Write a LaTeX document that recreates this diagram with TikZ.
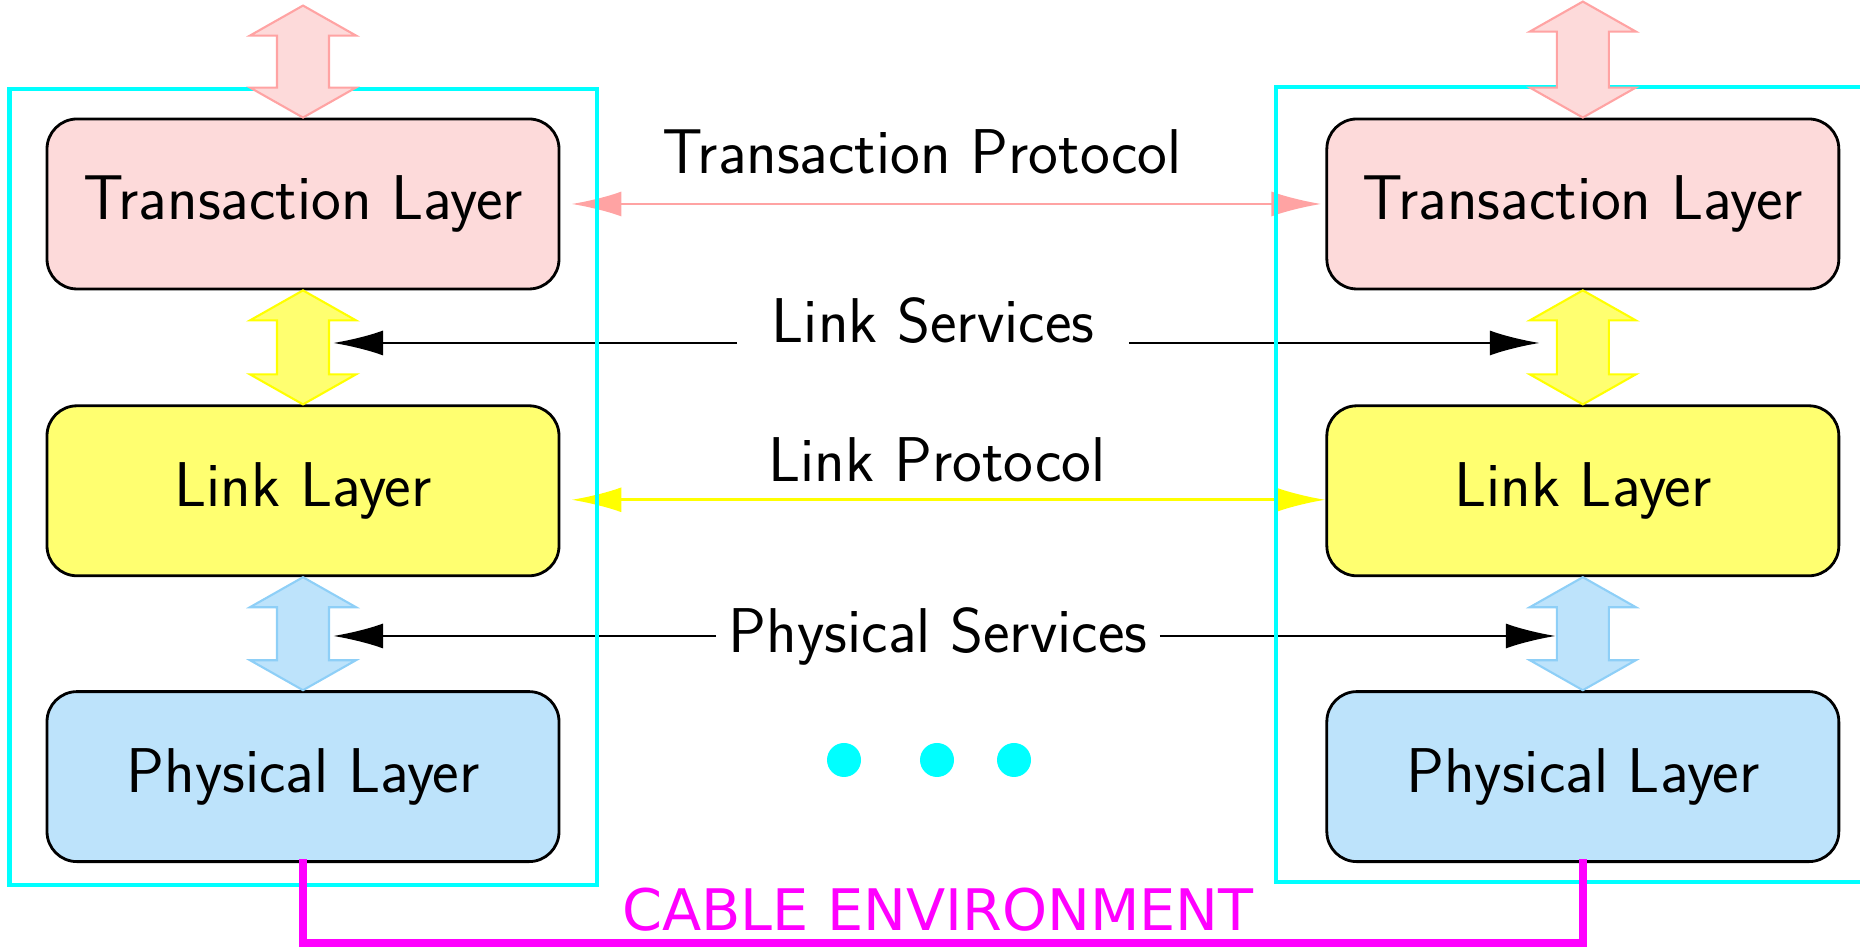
\documentclass[tikz,border=0pt]{standalone}
\usepackage{fontspec}
\newfontfamily\cablefont{DejaVu Sans}
\usepackage{tikz}
\usetikzlibrary{arrows.meta, positioning, calc, backgrounds}

\definecolor{transfill}{HTML}{FDDADA}
\definecolor{transedge}{HTML}{FFA3A3}
\definecolor{linkfill}{HTML}{FFFF70}
\definecolor{linkedge}{HTML}{FFFF00}
\definecolor{physfill}{HTML}{BDE3FB}
\definecolor{physedge}{HTML}{8ECFF7}
\definecolor{devcyan}{HTML}{00FFFF}
\definecolor{cablemag}{HTML}{FF00FF}

\tikzset{
  layer/.style={draw, line width=0.8pt, rounded corners=0.3cm, minimum width=5.12cm,
    minimum height=1.7cm, font=\sffamily\fontsize{18}{21}\selectfont},
  lbl/.style={font=\sffamily\fontsize{18}{21}\selectfont},
  frame/.style={devcyan, line width=1.2pt},
  proto/.style={line width=0.8pt, {Latex[length=0.5cm,width=0.25cm]}-{Latex[length=0.5cm,width=0.25cm]}},
  serv/.style={line width=0.8pt, -{Latex[length=0.5cm,width=0.25cm]}},
  cable/.style={cablemag, line width=2.3pt},
}

% fat double arrow between an upper and a lower point
\newcommand{\updown}[3]{%
  \filldraw[fill=#3fill, draw=#3edge, line width=0.6pt]
    (#1) -- ($(#1)+(0.53,-0.3)$) -- ($(#1)+(0.26,-0.3)$) -- ($(#2)+(0.26,0.3)$)
    -- ($(#2)+(0.53,0.3)$) -- (#2) -- ($(#2)+(-0.53,0.3)$) -- ($(#2)+(-0.26,0.3)$)
    -- ($(#1)+(-0.26,-0.3)$) -- ($(#1)+(-0.53,-0.3)$) -- cycle;}

\begin{document}
\begin{tikzpicture}
  \useasboundingbox (0,0) rectangle (18.6,9.48);

  % layer stacks
  \node[layer, fill=transfill] (Tl) at (3.03,7.44) {Transaction Layer};
  \node[layer, fill=linkfill, below=1.14cm of Tl] (Ll) {Link Layer};
  \node[layer, fill=physfill, below=1.13cm of Ll] (Pl) {Physical Layer};
  \node[layer, fill=transfill, right=7.65cm of Tl] (Tr) {Transaction Layer};
  \node[layer, fill=linkfill, right=7.65cm of Ll] (Lr) {Link Layer};
  \node[layer, fill=physfill, right=7.65cm of Pl] (Pr) {Physical Layer};

  % protocols and services
  \node[lbl, anchor=base] (tpr) at (9.22,7.74) {Transaction Protocol};
  \node[lbl, anchor=base, inner xsep=0.34cm] (lsv) at (9.33,6.05) {Link Services};
  \node[lbl, anchor=base] (lpr) at (9.37,4.66) {Link Protocol};
  \node[lbl, inner xsep=0.12cm] (psv) at (9.38,3.12) {Physical Services};

  \coordinate (lsvL) at ([xshift=0.3cm]Tl.south |- lsv.base);
  \coordinate (lsvR) at ([xshift=-0.43cm]Tr.south |- lsv.base);
  \coordinate (psvL) at ([xshift=0.3cm]Pl.north |- psv.west);
  \coordinate (psvR) at ([xshift=-0.27cm]Pr.north |- psv.east);

  \begin{pgfonlayer}{background}
    \draw[proto, transedge] ([xshift=0.11cm]Tl.east) -- ([xshift=-0.04cm]Tr.west);
    \draw[serv] (lsv.base west) -- (lsvL);
    \draw[serv] (lsv.base east) -- (lsvR);
    \draw[proto, linkedge] ([shift={(0.11,-0.09)}]Ll.east) -- ([yshift=-0.09cm]Lr.west);
    \draw[serv] (psv.west) -- (psvL);
    \draw[serv] (psv.east) -- (psvR);
    % devices
    \draw[frame] (0.095,0.63) rectangle (5.97,8.59);
    \draw[frame] (18.6,8.61) -- (12.76,8.61) -- (12.76,0.66) -- (18.6,0.66);
  \end{pgfonlayer}

  \foreach \x in {8.44,9.37,10.14}
    \fill[devcyan] (\x,1.88) circle (0.17);

  \coordinate (Tlup) at ([yshift=1.12cm]Tl.north);
  \coordinate (Trup) at ([yshift=1.16cm]Tr.north);
  \updown{Tlup}{Tl.north}{trans}
  \updown{Trup}{Tr.north}{trans}
  \updown{Tl.south}{Ll.north}{link}
  \updown{Tr.south}{Lr.north}{link}
  \updown{Ll.south}{Pl.north}{phys}
  \updown{Lr.south}{Pr.north}{phys}

  % cable
  \coordinate (cbl) at (0,0.05);
  \draw[cable] ([yshift=0.04cm]Pl.south) -- (Pl.south |- cbl) -| ([yshift=0.04cm]Pr.south);
  \node[font=\cablefont\fontsize{16.3}{20}\selectfont, text=cablemag, anchor=base] (cab)
    at (9.38,0.17) {CABLE ENVIRONMENT};
\end{tikzpicture}
\end{document}
